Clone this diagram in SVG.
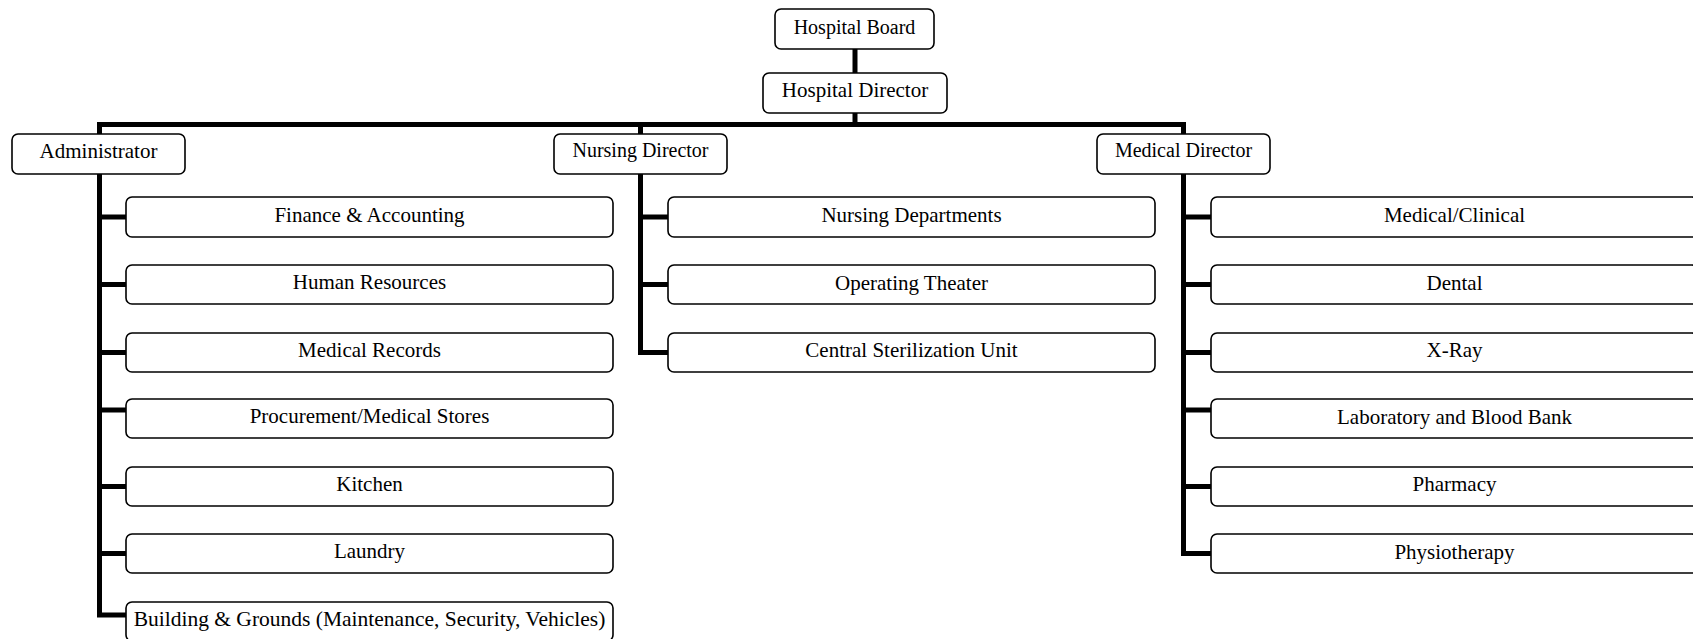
<svg xmlns="http://www.w3.org/2000/svg" width="1693" height="639" viewBox="0 0 1693 639">
<style>
.box{fill:#fff;stroke:#000;stroke-width:1.6}
.ln{fill:none;stroke:#000;stroke-width:5;stroke-linejoin:miter;stroke-linecap:butt}
text{font-family:"Liberation Serif","Times New Roman",serif;fill:#000;text-anchor:middle}
.t20{font-size:20px}
.t21{font-size:21px}
.t215{font-size:21.5px}
</style>
<rect width="1693" height="639" fill="#fff"/>
<g id="connectors">
<path class="ln" d="M855 49 V73"/>
<path class="ln" d="M855 113 V124.5"/>
<path class="ln" d="M126 615 H99.5 V124.5 H1183.5 V134"/>
<path class="ln" d="M640.5 124.5 V134"/>
<path class="ln" d="M99.5 217 H126 M99.5 284.5 H126 M99.5 352.5 H126 M99.5 410 H126 M99.5 486.5 H126 M99.5 553.5 H126"/>
<path class="ln" d="M640.5 174 V352.5 H668 M640.5 217 H668 M640.5 284.5 H668"/>
<path class="ln" d="M1183.5 174 V553.5 H1211 M1183.5 217 H1211 M1183.5 284.5 H1211 M1183.5 352.5 H1211 M1183.5 410 H1211 M1183.5 486.5 H1211"/>
</g>
<g id="board"><rect class="box" x="775" y="9" width="159" height="40" rx="6"/><text class="t20" x="854.5" y="34">Hospital Board</text></g>
<g id="director"><rect class="box" x="763" y="73" width="184" height="40" rx="6"/><text class="t21" x="855" y="97">Hospital Director</text></g>
<g id="admin"><rect class="box" x="12" y="134" width="173" height="40" rx="6"/><text class="t21" x="98.5" y="158">Administrator</text></g>
<g id="nursing"><rect class="box" x="554" y="134" width="173" height="40" rx="6"/><text class="t20" x="640.5" y="157">Nursing Director</text></g>
<g id="medical"><rect class="box" x="1097" y="134" width="173" height="40" rx="6"/><text class="t20" x="1183.5" y="157">Medical Director</text></g>
<g id="finance"><rect class="box" x="126" y="197" width="487" height="40" rx="6"/><text class="t21" x="369.5" y="222">Finance &amp; Accounting</text></g>
<g id="hr"><rect class="box" x="126" y="265" width="487" height="39" rx="6"/><text class="t21" x="369.5" y="289">Human Resources</text></g>
<g id="records"><rect class="box" x="126" y="333" width="487" height="39" rx="6"/><text class="t21" x="369.5" y="357">Medical Records</text></g>
<g id="procurement"><rect class="box" x="126" y="399" width="487" height="39" rx="6"/><text class="t21" x="369.5" y="423">Procurement/Medical Stores</text></g>
<g id="kitchen"><rect class="box" x="126" y="467" width="487" height="39" rx="6"/><text class="t21" x="369.5" y="491">Kitchen</text></g>
<g id="laundry"><rect class="box" x="126" y="534" width="487" height="39" rx="6"/><text class="t21" x="369.5" y="558">Laundry</text></g>
<g id="building"><rect class="box" x="126" y="602" width="487" height="39" rx="6"/><text class="t215" x="369.5" y="626">Building &amp; Grounds (Maintenance, Security, Vehicles)</text></g>
<g id="nursingdept"><rect class="box" x="668" y="197" width="487" height="40" rx="6"/><text class="t21" x="911.5" y="222">Nursing Departments</text></g>
<g id="theater"><rect class="box" x="668" y="265" width="487" height="39" rx="6"/><text class="t21" x="911.5" y="290">Operating Theater</text></g>
<g id="sterilization"><rect class="box" x="668" y="333" width="487" height="39" rx="6"/><text class="t21" x="911.5" y="357">Central Sterilization Unit</text></g>
<g id="clinical"><rect class="box" x="1211" y="197" width="487" height="40" rx="6"/><text class="t21" x="1454.5" y="222">Medical/Clinical</text></g>
<g id="dental"><rect class="box" x="1211" y="265" width="487" height="39" rx="6"/><text class="t21" x="1454.5" y="290">Dental</text></g>
<g id="xray"><rect class="box" x="1211" y="333" width="487" height="39" rx="6"/><text class="t21" x="1454.5" y="357">X-Ray</text></g>
<g id="lab"><rect class="box" x="1211" y="399" width="487" height="39" rx="6"/><text class="t21" x="1454.5" y="424">Laboratory and Blood Bank</text></g>
<g id="pharmacy"><rect class="box" x="1211" y="467" width="487" height="39" rx="6"/><text class="t21" x="1454.5" y="491">Pharmacy</text></g>
<g id="physio"><rect class="box" x="1211" y="534" width="487" height="39" rx="6"/><text class="t21" x="1454.5" y="559">Physiotherapy</text></g>
</svg>
